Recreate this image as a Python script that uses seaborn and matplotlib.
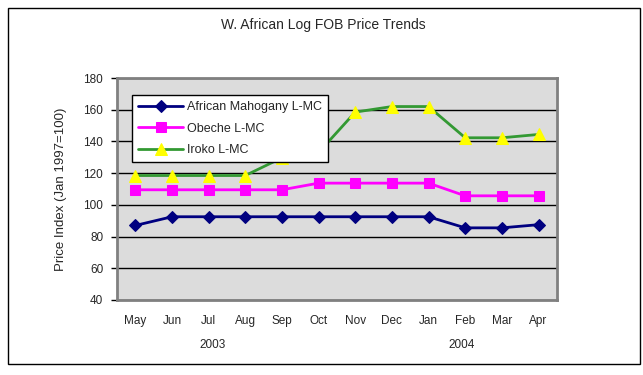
import pandas as pd
import matplotlib.pyplot as plt
import seaborn as sns
from matplotlib.patches import Rectangle
from matplotlib.transforms import blended_transform_factory

months = ['May', 'Jun', 'Jul', 'Aug', 'Sep', 'Oct', 'Nov', 'Dec', 'Jan', 'Feb', 'Mar', 'Apr']
mahogany = [87, 92.5, 92.5, 92.5, 92.5, 92.5, 92.5, 92.5, 92.5, 85.5, 85.5, 87.5]
obeche = [109.5, 109.5, 109.5, 109.5, 109.5, 113.7, 113.7, 113.7, 113.7, 105.7, 105.7, 105.7]
iroko = [118.5, 118.5, 118.5, 118.5, 129.7, 133, 158.5, 162, 162, 142.3, 142.3, 144.4]
years = ['2003', '2004']
year_pos = [2.1, 8.9]

sns.set_style('white')
plt.rcParams['font.family'] = ['Liberation Sans', 'DejaVu Sans']

fig = plt.figure(figsize=(6.43, 3.75), dpi=100)
ax = fig.add_axes([0.182, 0.2, 0.684, 0.592])
ax.set_facecolor('#dcdcdc')

# ==============================
# series
# ==============================
df = pd.DataFrame({'Month': months, 'Mahogany': mahogany, 'Obeche': obeche, 'Iroko': iroko})
x = list(range(len(months)))

sns.lineplot(x=x, y=df['Mahogany'], ax=ax, color='#000080', lw=2, marker='D',
             markersize=6, markeredgecolor='#000080', label='African Mahogany L-MC')
sns.lineplot(x=x, y=df['Obeche'], ax=ax, color='#ff00ff', lw=2, marker='s',
             markersize=7, markeredgecolor='#ff00ff', label='Obeche L-MC')
sns.lineplot(x=x, y=df['Iroko'], ax=ax, color='#339933', lw=2, marker='^',
             markersize=8, markerfacecolor='#ffff00', markeredgecolor='#ffff00', label='Iroko L-MC')

# ==============================
# axes
# ==============================
ax.set_xlim(-0.5, 11.5)
ax.set_ylim(40, 180)
ax.set_yticks(range(40, 181, 20))
ax.yaxis.grid(True, color='black', lw=1)
ax.set_axisbelow(True)
ax.set_xticks(x)
ax.set_xticklabels(months, fontsize=8.5)
ax.set_xticks([i + 0.5 for i in range(-1, 12)], minor=True)
ax.tick_params(axis='x', which='major', length=0, pad=11)
ax.tick_params(axis='x', which='minor', length=4, direction='out', color='black', width=1)
ax.tick_params(axis='y', length=4, direction='out', color='black', width=1, labelsize=8.5,
               left=True, pad=6)
for sp in ax.spines.values():
    sp.set_color('#808080')
    sp.set_linewidth(2)
ax.set_xlabel('')
ax.set_ylabel('Price Index (Jan 1997=100)', fontsize=9.5, labelpad=12)

trans = blended_transform_factory(ax.transData, fig.transFigure)
for yr, pos in zip(years, year_pos):
    ax.text(pos, 0.08, yr, transform=trans, ha='center', va='center', fontsize=8.5)

fig.text(0.503, 0.933, 'W. African Log FOB Price Trends', ha='center', va='center', fontsize=10)

leg = ax.legend(loc='upper left', bbox_to_anchor=(0.034, 0.923), borderaxespad=0,
                fontsize=9, frameon=True, fancybox=False, framealpha=1, edgecolor='black',
                handlelength=3.6, handletextpad=0.3, labelspacing=0.75, borderpad=0.5)
leg.get_frame().set_linewidth(1)

fig.patches.append(Rectangle((0.013, 0.03), 0.982, 0.95, transform=fig.transFigure,
                             fill=False, edgecolor='black', lw=1))

plt.savefig('out.png', dpi=100)
